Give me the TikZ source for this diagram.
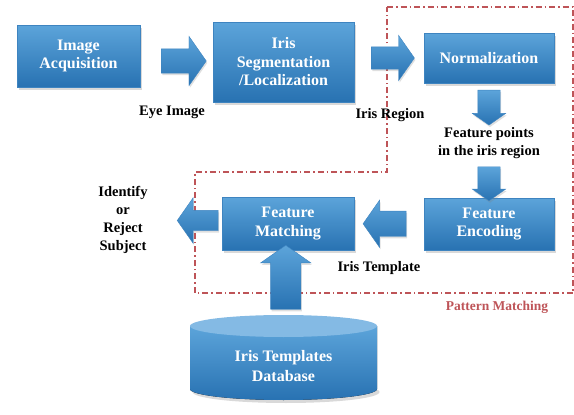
\documentclass[tikz,border=0pt]{standalone}
\usepackage{fontspec}
\setmainfont{Liberation Serif}
\usetikzlibrary{shapes.arrows,shadows,calc}
\definecolor{boxtop}{RGB}{92,164,218}
\definecolor{boxbot}{RGB}{40,114,178}
\definecolor{boxedge}{RGB}{62,132,192}
\definecolor{dbtop}{RGB}{132,186,228}
\definecolor{pmred}{RGB}{190,84,88}

\begin{document}
\begin{tikzpicture}[x=1pt, y=-1pt,
  stage/.style={rectangle, top color=boxtop, bottom color=boxbot, draw=boxedge,
    text=white, align=center, inner sep=0pt,
    font=\fontsize{16}{18.5}\selectfont\bfseries,
    drop shadow={opacity=0.3, shadow xshift=1.5pt, shadow yshift=-2.5pt}},
  flow/.style={single arrow, top color=boxtop, bottom color=boxbot,
    draw=boxedge, single arrow tip angle=110,
    drop shadow={opacity=0.25, shadow xshift=1pt, shadow yshift=-2pt}},
  lbl/.style={align=center, font=\fontsize{14.5}{17.5}\selectfont\bfseries}]
  \useasboundingbox (0,0) rectangle (574,415);

  % pattern matching region
  \draw[pmred, line width=1.1pt, dash pattern=on 6pt off 3pt on 1.5pt off 3pt]
    (387,7) -- (573,7) -- (573,293) -- (195,293) -- (195,172) -- (387,172) -- cycle;
  \node[pmred, font=\fontsize{13.5}{16}\selectfont\bfseries] (pm) at (497,307) {Pattern Matching};

  % stages
  \node[stage, minimum width=123pt, minimum height=62pt] (acq) at (78.5,56) {Image\\Acquisition};
  \node[stage, minimum width=141pt, minimum height=80pt] (seg) at (283.5,62) {Iris\\Segmentation\\/Localization};
  \node[stage, minimum width=130pt, minimum height=50pt] (norm) at (489,58) {Normalization};
  \node[stage, minimum width=130pt, minimum height=52pt] (enc) at (489,224) {Feature\\Encoding};
  \node[stage, minimum width=132pt, minimum height=53pt] (fm) at (288,223.5) {Feature\\Matching};

  % database
  \begin{scope}
    \fill[black, opacity=0.15] (286,392) ellipse (93.5 and 11);
    \fill[top color=boxtop, bottom color=boxbot] (190,326) -- (190,389)
      arc[start angle=180, end angle=0, x radius=93.5, y radius=11] -- (377,326) -- cycle;
    \fill[dbtop] (283.5,326) ellipse (93.5 and 11);
    \coordinate (dbtop) at (283.5,315);
  \end{scope}
  \node[text=white, align=center, font=\fontsize{16}{20}\selectfont\bfseries] (db) at (283.5,366) {Iris Templates\\Database};

  % labels
  \node[lbl] (eye) at (172,112) {Eye Image};
  \node[lbl] (region) at (390,115) {Iris Region};
  \node[lbl] (pts) at (489,143) {Feature points\\in the iris region};
  \node[lbl] (tmpl) at (379,268) {Iris Template};
  \node[lbl, font=\fontsize{14.5}{18}\selectfont\bfseries] (out) at (123,220) {Identify\\or\\Reject\\Subject};

  % block arrows
  \node[flow, inner sep=12pt, minimum height=45pt, minimum width=49pt, single arrow head extend=12.5pt]
    (a1) at ($(acq.east)!0.5!(seg.west)+(3,2)$) {};
  \node[flow, inner sep=11pt, minimum height=43pt, minimum width=45pt, single arrow head extend=11.5pt]
    (a2) at ($(seg.east)!0.5!(norm.west)+(0,-2)$) {};
  \node[flow, inner sep=11pt, shape border rotate=270, minimum height=35pt, minimum width=33pt, single arrow head extend=5.5pt]
    (a3) at ($(norm.south)!0.5!(pts.north)$) {};
  \node[flow, inner sep=11pt, shape border rotate=270, minimum height=34pt, minimum width=33pt, single arrow head extend=5.5pt]
    (a4) at ($(pts.south)!0.5!(enc.north)$) {};
  \node[flow, inner sep=12.5pt, shape border rotate=180, minimum height=43pt, minimum width=47pt, single arrow head extend=11pt]
    (a5) at ($(enc.west)!0.5!(fm.east)$) {};
  \node[flow, inner sep=10pt, shape border rotate=180, minimum height=41pt, minimum width=45pt, single arrow head extend=12.5pt]
    (a6) at ($(fm.west)+(-20.5,-3)$) {};
  \node[flow, inner sep=15pt, shape border rotate=90, minimum height=64pt, minimum width=50pt, single arrow head extend=10pt]
    (a7) at ($(dbtop)!0.5!(fm.south)$) {};
\end{tikzpicture}
\end{document}
